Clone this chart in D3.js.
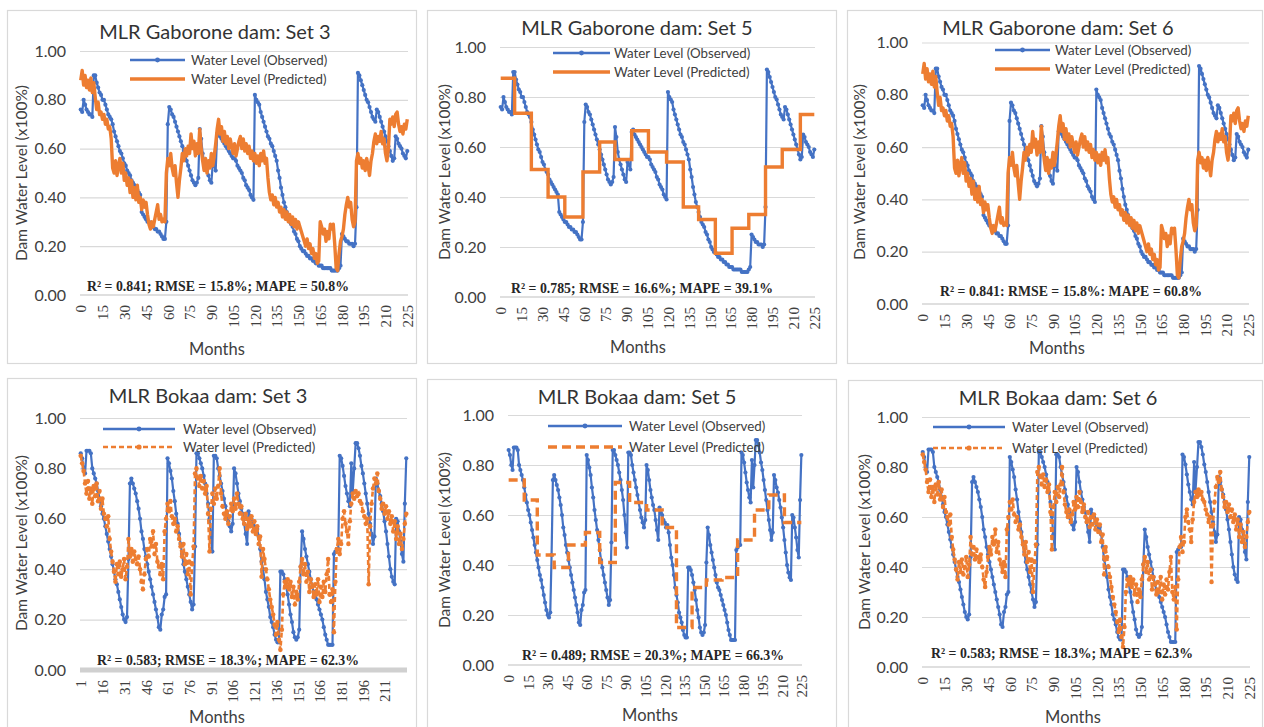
<!DOCTYPE html>
<html>
<head>
<meta charset="utf-8">
<script src="https://cdn.jsdelivr.net/npm/d3@7"></script>
<style>
  html, body { margin: 0; padding: 0; background: #ffffff; }
  svg { display: block; }
</style>
</head>
<body>
<svg id="chart" width="1264" height="727"></svg>
<script>
// ---- Monthly dam water level (fraction of capacity) ----

// Gaborone dam, observed, months 0..225
const gaboroneObserved = [
  0.76,0.75,0.80,0.78,0.76,0.75,0.74,0.74,0.73,0.90,
  0.90,0.87,0.85,0.83,0.82,0.80,0.80,0.78,0.76,0.74,
  0.73,0.72,0.70,0.67,0.65,0.63,0.61,0.59,0.58,0.56,
  0.54,0.53,0.51,0.50,0.49,0.47,0.46,0.45,0.44,0.43,
  0.42,0.41,0.34,0.33,0.32,0.31,0.30,0.30,0.29,0.28,
  0.28,0.27,0.27,0.26,0.26,0.25,0.24,0.23,0.23,0.30,
  0.70,0.77,0.76,0.74,0.73,0.71,0.69,0.67,0.65,0.63,
  0.61,0.59,0.57,0.55,0.53,0.51,0.49,0.47,0.46,0.45,
  0.46,0.48,0.68,0.64,0.58,0.55,0.53,0.51,0.49,0.47,
  0.46,0.54,0.53,0.51,0.66,0.67,0.65,0.64,0.63,0.62,
  0.61,0.60,0.59,0.58,0.57,0.56,0.56,0.55,0.53,0.52,
  0.51,0.50,0.48,0.47,0.45,0.44,0.43,0.41,0.40,0.39,
  0.82,0.80,0.79,0.78,0.75,0.73,0.71,0.69,0.67,0.65,
  0.64,0.62,0.61,0.59,0.57,0.55,0.51,0.48,0.44,0.41,
  0.38,0.36,0.34,0.32,0.30,0.29,0.28,0.26,0.25,0.23,
  0.22,0.20,0.19,0.18,0.18,0.17,0.16,0.16,0.15,0.15,
  0.14,0.14,0.13,0.13,0.12,0.12,0.12,0.11,0.11,0.11,
  0.11,0.11,0.11,0.10,0.10,0.10,0.10,0.10,0.11,0.12,
  0.25,0.24,0.23,0.22,0.22,0.21,0.21,0.21,0.20,0.21,
  0.36,0.91,0.90,0.88,0.86,0.84,0.82,0.80,0.79,0.77,
  0.75,0.73,0.72,0.71,0.76,0.75,0.73,0.71,0.69,0.67,
  0.65,0.63,0.61,0.59,0.57,0.55,0.56,0.65,0.64,0.62,
  0.61,0.60,0.58,0.57,0.56,0.59
];

// Gaborone dam, MLR predicted (input sets 3 and 6)
const gaboronePredicted = [
  0.88,0.92,0.86,0.90,0.85,0.88,0.84,0.89,0.83,0.87,
  0.81,0.76,0.79,0.74,0.75,0.72,0.74,0.70,0.72,0.68,
  0.69,0.64,0.52,0.50,0.55,0.49,0.53,0.56,0.50,0.54,
  0.47,0.50,0.45,0.48,0.42,0.47,0.40,0.44,0.39,0.45,
  0.38,0.40,0.35,0.39,0.36,0.38,0.33,0.29,0.27,0.30,
  0.28,0.31,0.34,0.37,0.31,0.33,0.30,0.31,0.30,0.50,
  0.56,0.53,0.58,0.52,0.49,0.53,0.46,0.40,0.47,0.52,
  0.58,0.55,0.60,0.57,0.61,0.58,0.66,0.60,0.63,0.57,
  0.62,0.58,0.68,0.60,0.55,0.51,0.56,0.50,0.55,0.52,
  0.58,0.53,0.57,0.62,0.68,0.72,0.66,0.69,0.63,0.67,
  0.62,0.65,0.60,0.64,0.61,0.58,0.62,0.57,0.60,0.63,
  0.65,0.60,0.64,0.59,0.62,0.58,0.61,0.56,0.59,0.55,
  0.58,0.54,0.57,0.53,0.58,0.55,0.59,0.54,0.56,0.48,
  0.42,0.39,0.41,0.37,0.40,0.36,0.38,0.34,0.36,0.32,
  0.35,0.31,0.34,0.30,0.33,0.29,0.32,0.28,0.31,0.27,
  0.30,0.28,0.26,0.24,0.22,0.20,0.23,0.19,0.21,0.17,
  0.19,0.15,0.17,0.13,0.14,0.30,0.28,0.25,0.27,0.22,
  0.26,0.23,0.29,0.27,0.29,0.21,0.11,0.10,0.17,0.22,
  0.24,0.27,0.33,0.37,0.40,0.36,0.38,0.31,0.28,0.30,
  0.55,0.58,0.54,0.56,0.52,0.55,0.51,0.56,0.53,0.49,
  0.55,0.58,0.63,0.66,0.62,0.65,0.63,0.67,0.62,0.64,
  0.58,0.55,0.60,0.72,0.70,0.73,0.69,0.74,0.75,0.70,
  0.67,0.69,0.66,0.70,0.68,0.72
];

// Gaborone dam, MLR predicted (input set 5): month where each level starts, and the level
const gaboroneSet5Start = [0, 10, 22, 34, 46, 59, 71, 82, 94, 106, 119, 131, 142, 154, 166, 178, 190, 202, 215];
const gaboroneSet5Level = [0.875, 0.735, 0.51, 0.40, 0.32, 0.50, 0.62, 0.55, 0.665, 0.58, 0.54, 0.36, 0.31, 0.175, 0.275, 0.33, 0.52, 0.59, 0.73];

// Bokaa dam, observed
const bokaaObserved = [
  0.86,0.84,0.80,0.78,0.87,0.87,0.87,0.86,0.80,0.78,
  0.76,0.74,0.71,0.68,0.65,0.62,0.60,0.57,0.54,0.51,
  0.48,0.45,0.42,0.39,0.36,0.34,0.31,0.28,0.25,0.22,
  0.20,0.19,0.21,0.44,0.74,0.76,0.74,0.72,0.70,0.67,
  0.64,0.60,0.55,0.52,0.48,0.45,0.42,0.39,0.36,0.33,
  0.30,0.27,0.24,0.21,0.17,0.16,0.22,0.24,0.29,0.30,
  0.84,0.82,0.79,0.76,0.71,0.67,0.62,0.58,0.54,0.50,
  0.46,0.42,0.39,0.36,0.33,0.30,0.27,0.24,0.26,0.49,
  0.86,0.86,0.84,0.82,0.80,0.77,0.74,0.70,0.66,0.60,
  0.53,0.47,0.85,0.85,0.84,0.80,0.77,0.74,0.71,0.68,
  0.65,0.62,0.59,0.57,0.55,0.58,0.80,0.78,0.74,0.70,
  0.67,0.64,0.62,0.58,0.54,0.50,0.63,0.61,0.60,0.58,
  0.57,0.55,0.56,0.53,0.48,0.43,0.40,0.36,0.31,0.28,
  0.25,0.21,0.19,0.17,0.14,0.12,0.11,0.11,0.39,0.39,
  0.38,0.36,0.33,0.30,0.26,0.22,0.19,0.15,0.13,0.12,
  0.13,0.16,0.41,0.55,0.52,0.48,0.45,0.42,0.39,0.36,
  0.33,0.31,0.30,0.28,0.26,0.24,0.22,0.20,0.17,0.14,
  0.12,0.10,0.10,0.10,0.10,0.46,0.47,0.48,0.48,0.85,
  0.84,0.81,0.77,0.73,0.70,0.67,0.65,0.82,0.71,0.80,
  0.90,0.90,0.88,0.85,0.81,0.78,0.74,0.70,0.66,0.62,
  0.58,0.54,0.50,0.53,0.76,0.74,0.71,0.69,0.66,0.63,
  0.59,0.55,0.50,0.45,0.40,0.37,0.35,0.34,0.60,0.59,
  0.55,0.51,0.46,0.43,0.66,0.84
];

// Bokaa dam, MLR predicted (input sets 3 and 6)
const bokaaPredicted = [
  0.85,0.82,0.79,0.74,0.70,0.75,0.68,0.72,0.66,0.73,
  0.69,0.74,0.67,0.71,0.64,0.68,0.62,0.60,0.57,0.61,
  0.52,0.47,0.43,0.39,0.35,0.42,0.38,0.43,0.37,0.40,
  0.44,0.36,0.41,0.52,0.45,0.48,0.43,0.47,0.44,0.42,
  0.45,0.40,0.35,0.32,0.38,0.44,0.48,0.45,0.52,0.49,
  0.55,0.46,0.50,0.43,0.41,0.38,0.42,0.36,0.55,0.60,
  0.66,0.63,0.67,0.61,0.58,0.60,0.55,0.57,0.52,0.49,
  0.45,0.50,0.42,0.46,0.38,0.43,0.30,0.42,0.49,0.78,
  0.80,0.76,0.73,0.77,0.72,0.75,0.70,0.73,0.62,0.47,
  0.64,0.70,0.66,0.72,0.68,0.73,0.80,0.70,0.65,0.62,
  0.60,0.63,0.58,0.61,0.66,0.63,0.68,0.64,0.70,0.66,
  0.62,0.65,0.60,0.58,0.62,0.56,0.60,0.57,0.61,0.55,
  0.59,0.54,0.57,0.50,0.53,0.37,0.48,0.44,0.40,0.36,
  0.32,0.28,0.25,0.22,0.18,0.14,0.19,0.12,0.08,0.16,
  0.30,0.35,0.33,0.36,0.32,0.35,0.29,0.33,0.26,0.31,
  0.28,0.35,0.41,0.44,0.38,0.42,0.35,0.39,0.31,0.36,
  0.33,0.29,0.34,0.30,0.36,0.27,0.33,0.29,0.35,0.31,
  0.38,0.44,0.30,0.27,0.32,0.15,0.35,0.48,0.52,0.46,
  0.50,0.60,0.63,0.58,0.55,0.50,0.59,0.66,0.70,0.68,
  0.71,0.69,0.70,0.67,0.66,0.63,0.61,0.58,0.60,0.34,
  0.57,0.66,0.72,0.76,0.74,0.78,0.71,0.68,0.64,0.66,
  0.62,0.65,0.60,0.63,0.58,0.61,0.55,0.59,0.52,0.57,
  0.50,0.54,0.48,0.52,0.58,0.62
];

// Bokaa dam, MLR predicted (input set 5): month where each level starts, and the level
const bokaaSet5Start = [0, 12, 22, 35, 46, 59, 70, 82, 93, 106, 118, 129, 141, 152, 164, 176, 189, 200, 212];
const bokaaSet5Level = [0.74, 0.66, 0.44, 0.39, 0.48, 0.53, 0.41, 0.73, 0.65, 0.62, 0.55, 0.15, 0.31, 0.34, 0.35, 0.50, 0.62, 0.68, 0.57];

// Axis ticks
const yTicks = [0, 0.2, 0.4, 0.6, 0.8, 1.0];
const monthTickLabels = [0, 15, 30, 45, 60, 75, 90, 105, 120, 135, 150, 165, 180, 195, 210, 225];
const bokaaSet3TickLabels = [1, 16, 31, 46, 61, 76, 91, 106, 121, 136, 151, 166, 181, 196, 211];

// Titles and goodness-of-fit notes
const titles = [
  "MLR Gaborone dam: Set 3", "MLR Gaborone dam: Set 5", "MLR Gaborone dam: Set 6",
  "MLR Bokaa dam: Set 3", "MLR Bokaa dam: Set 5", "MLR Bokaa dam: Set 6"
];
const fitNotes = [
  "R\u00B2 = 0.841; RMSE = 15.8%; MAPE = 50.8%",
  "R\u00B2 = 0.785; RMSE = 16.6%; MAPE = 39.1%",
  "R\u00B2 = 0.841: RMSE = 15.8%: MAPE = 60.8%",
  "R\u00B2 = 0.583; RMSE = 18.3%; MAPE = 62.3%",
  "R\u00B2 = 0.489; RMSE = 20.3%; MAPE = 66.3%",
  "R\u00B2 = 0.583; RMSE = 18.3%; MAPE = 62.3%"
];
const legendObserved = ["Water Level (Observed)", "Water Level (Observed)", "Water Level (Observed)",
                        "Water level (Observed)", "Water Level (Observed)", "Water Level (Observed)"];
const legendPredicted = ["Water Level (Predicted)", "Water Level (Predicted)", "Water Level (Predicted)",
                         "Water level (Predicted)", "Water Level (Predicted)", "Water Level (Predicted)"];

// ---- drawing ----
const BLUE = "#4472C4", ORANGE = "#ED7D31";
const SANS = "Lato, 'Open Sans', sans-serif";
const SERIF = "'Liberation Serif', 'DejaVu Serif', serif";
const svg = d3.select("#chart");

function stepPoints(starts, levels, lastMonth) {
  const pts = starts.map((m, i) => ({ m: m, v: levels[i] }));
  pts.push({ m: lastMonth, v: levels[levels.length - 1] });
  return pts;
}

const panels = [
  { box: [7, 10, 409, 353], px: [80, 408], y0: 295, y1: 51, title: [215, 32], yTitle: [22, 173], yLab: 66,
    legend: { x1: 130, x2: 185, tx: 191, y: [60, 79] }, note: [218, 286], months: [217, 349],
    obs: gaboroneObserved, pred: gaboronePredicted, style: "solid", ticks: monthTickLabels, tickShift: 0 },
  { box: [427, 10, 409, 353], px: [500, 815], y0: 297, y1: 47, title: [637, 28], yTitle: [445, 172], yLab: 486,
    legend: { x1: 553, x2: 610, tx: 614, y: [53, 72] }, note: [642, 288], months: [638, 347],
    obs: gaboroneObserved, pred: stepPoints(gaboroneSet5Start, gaboroneSet5Level, 225), style: "step", ticks: monthTickLabels, tickShift: 0 },
  { box: [847, 10, 415, 353], px: [922, 1249], y0: 304, y1: 42.5, title: [1058, 28], yTitle: [860, 172], yLab: 908,
    legend: { x1: 995, x2: 1050, tx: 1055, y: [50, 69] }, note: [1071, 291], months: [1057, 348],
    obs: gaboroneObserved, pred: gaboronePredicted, style: "solid", ticks: monthTickLabels, tickShift: 0 },
  { box: [7, 378, 409, 360], px: [80, 407], y0: 670, y1: 418, title: [208, 396], yTitle: [22, 543], yLab: 66,
    legend: { x1: 103, x2: 175, tx: 183, y: [429, 447] }, note: [228, 660], months: [217, 717],
    obs: bokaaObserved, pred: bokaaPredicted, style: "dashed", ticks: bokaaSet3TickLabels, tickShift: -1, thickBase: true },
  { box: [427, 379, 409, 360], px: [508, 802], y0: 665, y1: 415, title: [637, 397], yTitle: [445, 540], yLab: 494,
    legend: { x1: 548, x2: 622, tx: 629, y: [426, 447] }, note: [653, 655], months: [650, 715],
    obs: bokaaObserved, pred: stepPoints(bokaaSet5Start, bokaaSet5Level, 225), style: "dashedStep", ticks: monthTickLabels, tickShift: 0 },
  { box: [848, 380, 414, 360], px: [922, 1250], y0: 667, y1: 417, title: [1058, 398], yTitle: [865, 542], yLab: 908,
    legend: { x1: 933, x2: 1005, tx: 1012, y: [427, 448] }, note: [1062, 653], months: [1073, 717],
    obs: bokaaObserved, pred: bokaaPredicted, style: "dashed", ticks: monthTickLabels, tickShift: 0 }
];

panels.forEach((p, k) => {
  const g = svg.append("g");

  g.append("rect")
    .attr("x", p.box[0] + 0.5).attr("y", p.box[1] + 0.5)
    .attr("width", p.box[2]).attr("height", p.box[3])
    .attr("fill", "#ffffff").attr("stroke", "#d9d9d9").attr("stroke-width", 1.2);

  const x = d3.scaleLinear().domain([-0.5, 225.5]).range(p.px);
  const y = d3.scaleLinear().domain([0, 1]).range([p.y0, p.y1]);

  // horizontal gridlines
  const grid = g.append("g")
    .attr("transform", `translate(${p.px[0]},0)`)
    .call(d3.axisLeft(y).tickValues(yTicks.slice(1)).tickSize(-(p.px[1] - p.px[0])).tickFormat(""));
  grid.select(".domain").remove();
  grid.selectAll("line").attr("stroke", "#d9d9d9").attr("stroke-width", 1.2);

  // category axis line at zero
  g.append("line")
    .attr("x1", p.px[0]).attr("x2", p.px[1])
    .attr("y1", y(0)).attr("y2", y(0))
    .attr("stroke", p.thickBase ? "#d0d0d0" : "#d4d4d4")
    .attr("stroke-width", p.thickBase ? 5 : 1.5);

  // value axis labels
  const yAx = g.append("g")
    .attr("transform", `translate(${p.yLab},0)`)
    .call(d3.axisLeft(y).tickValues(yTicks).tickSize(0).tickPadding(0).tickFormat(d3.format(".2f")));
  yAx.select(".domain").remove();
  yAx.selectAll("text")
    .attr("font-family", SANS).attr("font-size", 16).attr("fill", "#404040");

  // month labels, rotated
  const xAx = g.append("g")
    .attr("transform", `translate(0,${p.y0})`)
    .call(d3.axisBottom(x)
      .tickValues(p.ticks.map(t => t + p.tickShift))
      .tickSize(0)
      .tickFormat((d, i) => p.ticks[i]));
  xAx.select(".domain").remove();
  xAx.selectAll("text")
    .attr("transform", "rotate(-90)")
    .attr("text-anchor", "end")
    .attr("x", -10).attr("y", 0).attr("dy", "0.35em")
    .attr("font-family", SERIF).attr("font-size", 15).attr("fill", "#404040");

  // title
  g.append("text")
    .attr("x", p.title[0]).attr("y", p.title[1]).attr("dy", "0.35em")
    .attr("text-anchor", "middle")
    .attr("font-family", SANS).attr("font-size", 20).attr("fill", "#333333")
    .text(titles[k]);

  // axis titles
  g.append("text")
    .attr("transform", `translate(${p.yTitle[0]},${p.yTitle[1]}) rotate(-90)`)
    .attr("dy", "0.35em").attr("text-anchor", "middle")
    .attr("font-family", SANS).attr("font-size", 15.5).attr("fill", "#404040")
    .text("Dam Water Level (x100%)");
  g.append("text")
    .attr("x", p.months[0]).attr("y", p.months[1]).attr("dy", "0.35em")
    .attr("text-anchor", "middle")
    .attr("font-family", SANS).attr("font-size", 16.5).attr("fill", "#404040")
    .text("Months");

  // observed series
  const obsLine = d3.line().x((d, i) => x(i)).y(d => y(d));
  g.append("path")
    .datum(p.obs)
    .attr("d", obsLine)
    .attr("fill", "none").attr("stroke", BLUE).attr("stroke-width", 2.2)
    .attr("stroke-linejoin", "round");
  g.append("g").selectAll("circle")
    .data(p.obs).join("circle")
    .attr("cx", (d, i) => x(i)).attr("cy", d => y(d)).attr("r", 2.1)
    .attr("fill", BLUE);

  // predicted series
  if (p.style === "solid") {
    g.append("path")
      .datum(p.pred)
      .attr("d", d3.line().x((d, i) => x(i)).y(d => y(d)))
      .attr("fill", "none").attr("stroke", ORANGE).attr("stroke-width", 3.4)
      .attr("stroke-linejoin", "round");
  } else if (p.style === "step") {
    g.append("path")
      .datum(p.pred)
      .attr("d", d3.line().curve(d3.curveStepAfter).x(d => x(d.m)).y(d => y(d.v)))
      .attr("fill", "none").attr("stroke", ORANGE).attr("stroke-width", 3.4);
  } else if (p.style === "dashed") {
    g.append("path")
      .datum(p.pred)
      .attr("d", d3.line().x((d, i) => x(i)).y(d => y(d)))
      .attr("fill", "none").attr("stroke", ORANGE).attr("stroke-width", 2.6)
      .attr("stroke-dasharray", "5,3");
    g.append("g").selectAll("circle")
      .data(p.pred).join("circle")
      .attr("cx", (d, i) => x(i)).attr("cy", d => y(d)).attr("r", 2.3)
      .attr("fill", ORANGE);
  } else {
    g.append("path")
      .datum(p.pred)
      .attr("d", d3.line().curve(d3.curveStepAfter).x(d => x(d.m)).y(d => y(d.v)))
      .attr("fill", "none").attr("stroke", ORANGE).attr("stroke-width", 3.4)
      .attr("stroke-dasharray", "9,5");
  }

  // legend
  const L = p.legend;
  const mid = (L.x1 + L.x2) / 2;
  g.append("line").attr("x1", L.x1).attr("x2", L.x2).attr("y1", L.y[0]).attr("y2", L.y[0])
    .attr("stroke", BLUE).attr("stroke-width", 2.4);
  g.append("circle").attr("cx", mid).attr("cy", L.y[0]).attr("r", 2.4).attr("fill", BLUE);
  const pl = g.append("line").attr("x1", L.x1).attr("x2", L.x2).attr("y1", L.y[1]).attr("y2", L.y[1])
    .attr("stroke", ORANGE).attr("stroke-width", p.style === "dashed" ? 2.6 : 3.4);
  if (p.style === "dashed") pl.attr("stroke-dasharray", "5,3");
  if (p.style === "dashedStep") pl.attr("stroke-dasharray", "9,5");
  if (p.style === "dashed") g.append("circle").attr("cx", mid).attr("cy", L.y[1]).attr("r", 2.6).attr("fill", ORANGE);
  [legendObserved[k], legendPredicted[k]].forEach((t, j) => {
    g.append("text")
      .attr("x", L.tx).attr("y", L.y[j]).attr("dy", "0.35em")
      .attr("font-family", SANS).attr("font-size", 13.3).attr("fill", "#404040")
      .text(t);
  });

  // fit statistics
  g.append("text")
    .attr("x", p.note[0]).attr("y", p.note[1]).attr("dy", "0.35em")
    .attr("text-anchor", "middle")
    .attr("font-family", SERIF).attr("font-weight", "bold").attr("font-size", 13.8).attr("fill", "#262626")
    .text(fitNotes[k]);
});
</script>
</body>
</html>
